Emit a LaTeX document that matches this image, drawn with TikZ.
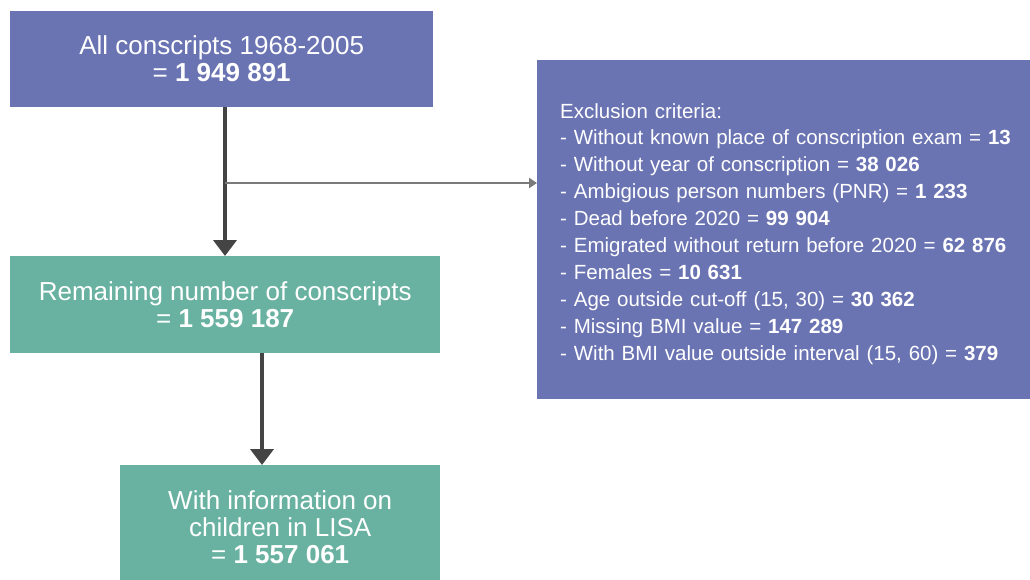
\documentclass[tikz,border=0pt]{standalone}
\usepackage{fontspec}
\setmainfont{Liberation Sans}
\usetikzlibrary{arrows.meta}
\definecolor{boxpurple}{HTML}{6B74B3}
\definecolor{boxgreen}{HTML}{69B2A1}
\definecolor{arrowdark}{HTML}{444444}
\definecolor{arrowgray}{HTML}{7A7A7A}
\tikzset{
  purplebox/.style={fill=boxpurple, draw=none, text=white, inner sep=0pt, anchor=north west},
  greenbox/.style={fill=boxgreen, draw=none, text=white, inner sep=0pt, anchor=north west},
  bigtext/.style={font=\fontsize{26}{27}\selectfont, align=center},
  bigarrow/.style={draw=arrowdark, line width=4.5pt, -{Triangle[width=23pt,length=16pt]}},
  thinarrow/.style={draw=arrowgray, line width=2pt, -{Triangle[width=10pt,length=8pt]}},
}
\begin{document}
\begin{tikzpicture}[x=1pt,y=-1pt]
\useasboundingbox (0,0) rectangle (1030,579);
\node[purplebox, bigtext, minimum width=423pt, minimum height=96pt] (all) at (10,11)
  {All conscripts 1968-2005\\= \textbf{1 949 891}};
\node[greenbox, bigtext, minimum width=430pt, minimum height=97pt] (rem) at (10,256)
  {Remaining number of conscripts\\= \textbf{1 559 187}};
\node[greenbox, bigtext, minimum width=320pt, minimum height=124pt] (lisa) at (120,465)
  {With information on\\children in LISA\\= \textbf{1 557 061}};
\node[purplebox, minimum width=510pt, minimum height=339pt] (excl) at (537,60) {};
\node[text=white, inner sep=0pt, anchor=north west,
      font=\fontsize{20.5}{26.9}\selectfont, align=left, text width=464pt] (excltext) at (560,103)
  {Exclusion criteria:\\
   - Without known place of conscription exam = \textbf{13}\\
   - Without year of conscription = \textbf{38 026}\\
   - Ambigious person numbers (PNR) = \textbf{1 233}\\
   - Dead before 2020 = \textbf{99 904}\\
   - Emigrated without return before 2020 = \textbf{62 876}\\
   - Females = \textbf{10 631}\\
   - Age outside cut-off (15, 30) = \textbf{30 362}\\
   - Missing BMI value = \textbf{147 289}\\
   - With BMI value outside interval (15, 60) = \textbf{379}};
\coordinate (split) at (225,183);
\coordinate (down2) at (262,400);
\draw[bigarrow] (all.south -| split) -- (rem.north -| split);
\draw[thinarrow] (split) -- (excl.west |- split);
\draw[bigarrow] (rem.south -| down2) -- (lisa.north -| down2);
\end{tikzpicture}
\end{document}
